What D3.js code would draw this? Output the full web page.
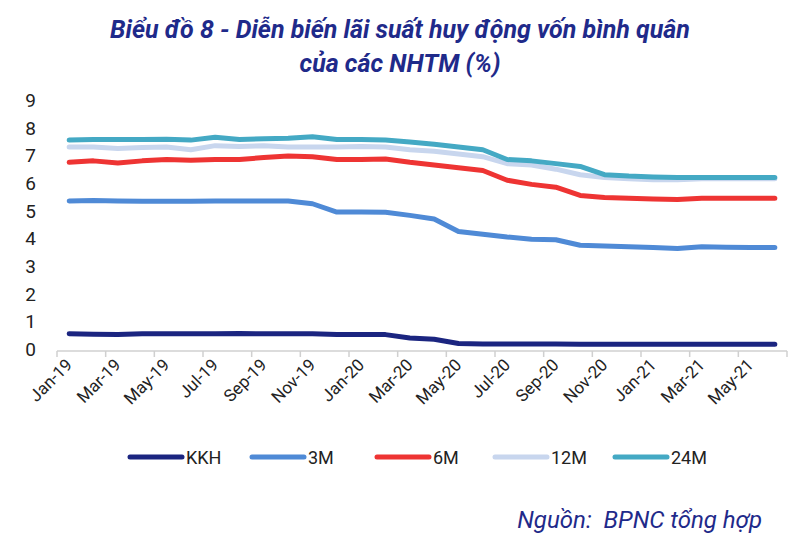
<!DOCTYPE html>
<html><head><meta charset="utf-8">
<script src="https://cdn.jsdelivr.net/npm/d3@7"></script>
<style>body{margin:0;background:#fff;font-family:Roboto,Arial,sans-serif}</style>
</head><body><svg id="chart" width="800" height="544"></svg>
<script>
const months = ["Jan","Feb","Mar","Apr","May","Jun","Jul","Aug","Sep","Oct","Nov","Dec"];
const categories = [];
for (let y of ["19","20","21"]) for (let m of months) categories.push(m + "-" + y);
categories.length = 30;

const kkh = [0.55,0.53,0.52,0.55,0.55,0.55,0.55,0.56,0.55,0.55,0.55,0.52,0.52,0.52,0.4,0.35,0.2,0.18,0.18,0.18,0.18,0.17,0.17,0.17,0.17,0.17,0.17,0.17,0.17,0.17];
const m3 = [5.35,5.37,5.35,5.34,5.34,5.34,5.35,5.35,5.35,5.35,5.25,4.95,4.95,4.94,4.83,4.7,4.25,4.15,4.05,3.97,3.95,3.75,3.72,3.7,3.67,3.63,3.7,3.68,3.67,3.67];
const m6 = [6.75,6.8,6.72,6.8,6.85,6.82,6.85,6.85,6.92,6.98,6.95,6.85,6.85,6.87,6.75,6.65,6.55,6.45,6.1,5.95,5.85,5.55,5.48,5.45,5.42,5.4,5.45,5.45,5.45,5.45];
const m12 = [7.3,7.3,7.25,7.28,7.3,7.2,7.35,7.32,7.35,7.3,7.3,7.3,7.32,7.3,7.2,7.15,7.05,6.95,6.7,6.65,6.5,6.3,6.2,6.15,6.12,6.12,6.15,6.15,6.15,6.15];
const m24 = [7.55,7.57,7.57,7.57,7.58,7.55,7.65,7.57,7.6,7.62,7.67,7.57,7.57,7.55,7.48,7.4,7.3,7.2,6.85,6.8,6.7,6.6,6.3,6.25,6.22,6.2,6.2,6.2,6.2,6.2];
const seriesNames = ["KKH","3M","6M","12M","24M"];
const seriesData = [kkh, m3, m6, m12, m24];
const colors = ["#1b2580","#4f8ad6","#ee3433","#c8d6ee","#44a9c4"];
const yTicks = [0,1,2,3,4,5,6,7,8,9];

const svg = d3.select("#chart");
const x = d3.scaleBand().domain(categories).range([57, 787]);
const y = d3.scaleLinear().domain([0, 9]).range([349, 100]);

// title
svg.append("text").attr("x", 400).attr("y", 38).attr("text-anchor", "middle")
  .attr("font-size", 25).attr("font-weight", "bold").attr("font-style", "italic").attr("fill", "#1f2a8a")
  .text("Biểu đồ 8 - Diễn biến lãi suất huy động vốn bình quân");
svg.append("text").attr("x", 400).attr("y", 72).attr("text-anchor", "middle")
  .attr("font-size", 25).attr("font-weight", "bold").attr("font-style", "italic").attr("fill", "#1f2a8a")
  .text("của các NHTM (%)");

// y labels
svg.selectAll(".yl").data(yTicks).join("text")
  .attr("x", 36).attr("y", d => y(d) + 7).attr("text-anchor", "end")
  .attr("font-size", 19).attr("fill", "#222").text(d => d);

// x axis
const xa = svg.append("g");
xa.append("line").attr("x1", 57).attr("x2", 787).attr("y1", 351).attr("y2", 351).attr("stroke", "#d0d0d0").attr("stroke-width", 1.5);
const tickIdx = d3.range(0, 31, 2);
xa.selectAll(".tk").data(tickIdx).join("line")
  .attr("x1", i => 57 + i * x.bandwidth()).attr("x2", i => 57 + i * x.bandwidth())
  .attr("y1", 351).attr("y2", 357).attr("stroke", "#d0d0d0").attr("stroke-width", 1.5);
xa.selectAll(".xl").data(categories.filter((d, i) => i % 2 === 0)).join("text")
  .attr("transform", d => `translate(${x(d) + x.bandwidth() / 2 + 4},${366}) rotate(-45)`)
  .attr("text-anchor", "end").attr("font-size", 17).attr("fill", "#222").text(d => d);

// lines
const line = d3.line().x((d, i) => x(categories[i]) + x.bandwidth() / 2).y(d => y(d));
seriesData.forEach((s, k) => {
  svg.append("path").datum(s).attr("d", line).attr("fill", "none")
    .attr("stroke", colors[k]).attr("stroke-width", 5).attr("stroke-linecap", "round").attr("stroke-linejoin", "round");
});

// legend
const lx = [130, 252, 377, 495, 615];
seriesNames.forEach((n, k) => {
  svg.append("line").attr("x1", lx[k]).attr("x2", lx[k] + 52).attr("y1", 457).attr("y2", 457)
    .attr("stroke", colors[k]).attr("stroke-width", 5).attr("stroke-linecap", "round");
  svg.append("text").attr("x", lx[k] + 56).attr("y", 464).attr("font-size", 18).attr("fill", "#222").text(n);
});

// source
svg.append("text").attr("x", 762).attr("y", 528).attr("text-anchor", "end")
  .attr("font-size", 24).attr("font-style", "italic").attr("fill", "#1f2a8a")
  .attr("xml:space", "preserve")
  .text("Nguồn:  BPNC tổng hợp");
</script></body></html>
